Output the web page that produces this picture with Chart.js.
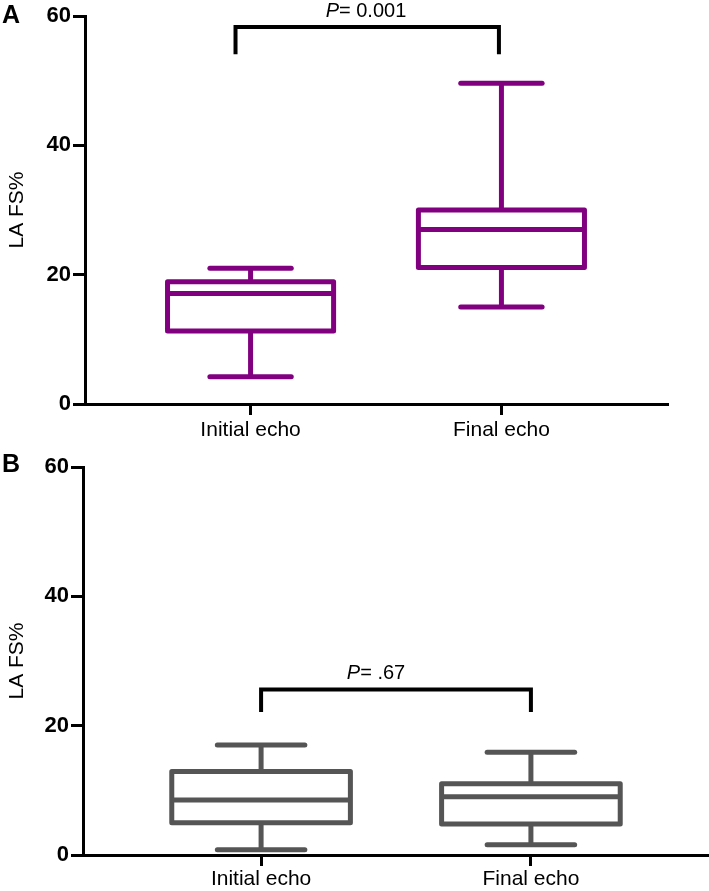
<!DOCTYPE html>
<html><head><meta charset="utf-8">
<script src="https://cdn.jsdelivr.net/npm/chart.js@4"></script>
<style>
html,body{margin:0;padding:0;background:#fff;}
#wrap{position:relative;width:709px;height:891px;overflow:hidden;background:#fff;}
canvas{position:absolute;left:0;}
</style></head><body>
<div id="wrap">
<canvas id="chartA" width="709" height="450" style="top:0px"></canvas>
<canvas id="chartB" width="709" height="441" style="top:450px"></canvas>
</div>
<script>
// ---------- data ----------
const categories = ['Initial echo', 'Final echo'];
const categoryPositions = [1, 2];
const yTicks = [0, 20, 40, 60];
const yAxisTitle = 'LA FS%';

// Panel A (LA FS%)
const panelAMin    = [4.2, 15.0];
const panelAQ1     = [11.3, 21.1];
const panelAMedian = [17.1, 27.0];
const panelAQ3     = [18.9, 30.0];
const panelAMax    = [21.0, 49.6];
const panelAPValue = '0.001';
const panelABracketX = [0.94, 1.99];
const panelABracketY = [58.3, 54.1];

// Panel B (LA FS%)
const panelBMin    = [0.8, 1.6];
const panelBQ1     = [5.0, 4.8];
const panelBMedian = [8.5, 9.0];
const panelBQ3     = [12.9, 11.0];
const panelBMax    = [17.0, 15.9];
const panelBPValue = '.67';
const panelBBracketX = [1.0, 2.0];
const panelBBracketY = [25.6, 22.1];

// ---------- drawing ----------
const FONT = '"Liberation Sans", Arial, Helvetica, sans-serif';

const boxPlotPlugin = {
  id: 'boxplot',
  afterDatasetsDraw(chart, args, o) {
    const ctx = chart.ctx;
    const xs = chart.scales.x, ys = chart.scales.y;
    const meta = chart.getDatasetMeta(0);
    const line = (x1, y1, x2, y2) => { ctx.beginPath(); ctx.moveTo(x1, y1); ctx.lineTo(x2, y2); ctx.stroke(); };
    ctx.save();
    ctx.strokeStyle = o.color;
    ctx.lineWidth = 5;
    ctx.lineJoin = 'round';
    meta.data.forEach((bar, i) => {
      const cx = bar.x;
      const half = bar.width / 2;
      const capHalf = half * 0.49;
      const yMin = ys.getPixelForValue(o.min[i]);
      const yQ1 = ys.getPixelForValue(o.q1[i]);
      const yMed = ys.getPixelForValue(o.median[i]);
      const yQ3 = ys.getPixelForValue(o.q3[i]);
      const yMax = ys.getPixelForValue(o.max[i]);
      ctx.lineCap = 'butt';
      line(cx, yQ3, cx, yMax);
      line(cx, yQ1, cx, yMin);
      ctx.strokeRect(cx - half, yQ3, 2 * half, yQ1 - yQ3);
      line(cx - half, yMed, cx + half, yMed);
      ctx.lineCap = 'round';
      line(cx - capHalf, yMax, cx + capHalf, yMax);
      line(cx - capHalf, yMin, cx + capHalf, yMin);
    });
    // significance bracket
    const bx1 = xs.getPixelForValue(o.bracketX[0]);
    const bx2 = xs.getPixelForValue(o.bracketX[1]);
    const byTop = ys.getPixelForValue(o.bracketY[0]);
    const byBot = ys.getPixelForValue(o.bracketY[1]);
    ctx.strokeStyle = '#000';
    ctx.lineWidth = 4;
    ctx.lineCap = 'butt';
    ctx.lineJoin = 'miter';
    ctx.beginPath();
    ctx.moveTo(bx1, byBot); ctx.lineTo(bx1, byTop); ctx.lineTo(bx2, byTop); ctx.lineTo(bx2, byBot);
    ctx.stroke();
    // P text
    ctx.fillStyle = '#000';
    ctx.textBaseline = 'alphabetic';
    ctx.textAlign = 'left';
    const pItal = 'italic 20px ' + FONT, pReg = '20px ' + FONT;
    ctx.font = pItal; const wP = ctx.measureText('P').width;
    const rest = '= ' + o.pValue;
    ctx.font = pReg; const wR = ctx.measureText(rest).width;
    const tcx = xs.getPixelForValue(o.textX);
    const tx = tcx - (wP + wR) / 2;
    const ty = byTop - 10;
    ctx.font = pItal; ctx.fillText('P', tx, ty);
    ctx.font = pReg; ctx.fillText(rest, tx + wP, ty);
    // panel letter
    ctx.font = 'bold 25px ' + FONT;
    ctx.fillText(o.letter, 2, o.letterY);
    ctx.restore();
  }
};

function makeChart(id, c) {
  return new Chart(document.getElementById(id), {
    type: 'bar',
    data: {
      datasets: [{
        data: categoryPositions.map((p, i) => ({ x: p, y: [c.q1[i], c.q3[i]] })),
        backgroundColor: 'rgba(0,0,0,0)',
        borderWidth: 0,
        barPercentage: 0.662,
        categoryPercentage: 1
      }]
    },
    options: {
      responsive: false,
      animation: false,
      devicePixelRatio: 1,
      events: [],
      layout: { padding: { left: 0, right: c.padRight, top: c.padTop, bottom: c.padBottom } },
      plugins: {
        legend: { display: false },
        tooltip: { enabled: false },
        boxplot: {
          color: c.color, min: c.min, q1: c.q1, median: c.median, q3: c.q3, max: c.max,
          bracketX: c.bracketX, bracketY: c.bracketY, pValue: c.pValue, textX: c.textX,
          letter: c.letter, letterY: c.letterY
        }
      },
      scales: {
        x: {
          type: 'linear', min: 0.34, max: 2.66, offset: false,
          afterBuildTicks: s => { s.ticks = categoryPositions.map(v => ({ value: v })); },
          afterFit: s => { s.height = c.xAxisHeight; },
          ticks: {
            callback: v => categories[categoryPositions.indexOf(v)],
            font: { family: FONT, size: 21 }, color: '#000',
            padding: c.xLabelPad, maxRotation: 0, autoSkip: false
          },
          grid: { drawOnChartArea: false, drawTicks: true, tickLength: 11, lineWidth: 3, color: '#000', offset: false },
          border: { display: true, width: 3, color: '#000' }
        },
        y: {
          min: 0, max: 60,
          afterBuildTicks: s => { s.ticks = yTicks.map(v => ({ value: v })); },
          afterFit: s => { s.width = c.yAxisWidth; },
          ticks: { font: { family: FONT, size: 22, weight: 'bold' }, color: '#000', padding: 2 },
          grid: { drawOnChartArea: false, drawTicks: true, tickLength: 12, lineWidth: 3, color: '#000' },
          border: { display: true, width: 3, color: '#000' },
          title: { display: true, text: yAxisTitle, font: { family: FONT, size: 21 }, color: '#000', padding: { top: 5, bottom: 0 } }
        }
      }
    },
    plugins: [boxPlotPlugin]
  });
}

makeChart('chartA', {
  color: '#800080',
  min: panelAMin, q1: panelAQ1, median: panelAMedian, q3: panelAQ3, max: panelAMax,
  bracketX: panelABracketX, bracketY: panelABracketY, pValue: panelAPValue, textX: 1.46,
  letter: 'A', letterY: 23,
  padRight: 42, padTop: 16, padBottom: 6, xAxisHeight: 40, yAxisWidth: 85, xLabelPad: 3
});

makeChart('chartB', {
  color: '#555555',
  min: panelBMin, q1: panelBQ1, median: panelBMedian, q3: panelBQ3, max: panelBMax,
  bracketX: panelBBracketX, bracketY: panelBBracketY, pValue: panelBPValue, textX: 1.426,
  letter: 'B', letterY: 22,
  padRight: 0, padTop: 17, padBottom: 4, xAxisHeight: 32, yAxisWidth: 83, xLabelPad: 1
});
</script>
</body></html>
